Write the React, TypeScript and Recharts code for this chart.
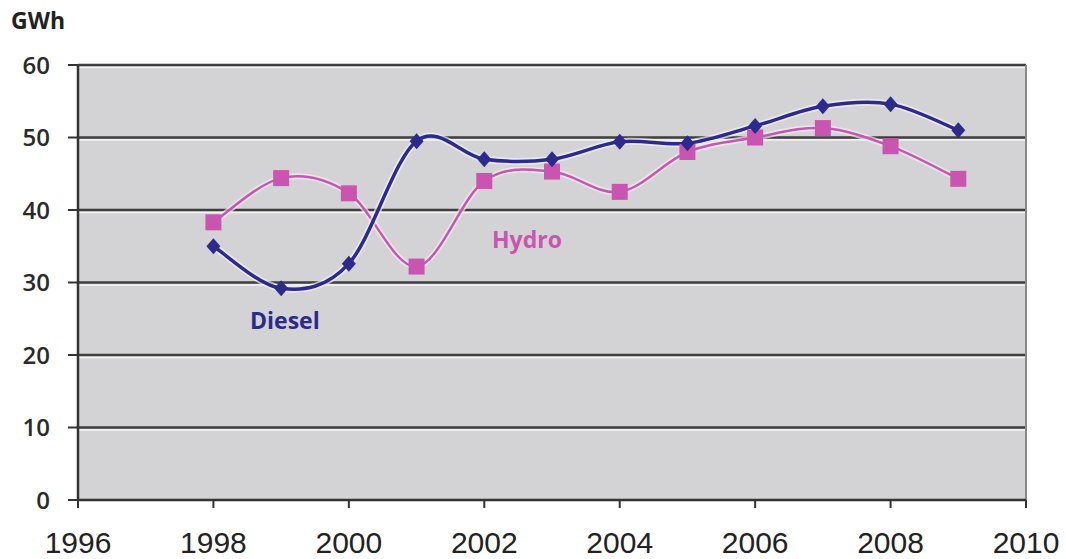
import { LineChart, Line, XAxis, YAxis, CartesianGrid, ReferenceLine } from 'recharts';

const years = [1998, 1999, 2000, 2001, 2002, 2003, 2004, 2005, 2006, 2007, 2008, 2009];
const diesel = [35, 29.2, 32.6, 49.5, 47, 47, 49.4, 49.2, 51.6, 54.3, 54.6, 51];
const hydro = [38.3, 44.4, 42.3, 32.2, 44, 45.3, 42.5, 48, 50, 51.3, 48.8, 44.3];
const xTicks = [1996, 1998, 2000, 2002, 2004, 2006, 2008, 2010];
const yTicks = [0, 10, 20, 30, 40, 50, 60];

const data = years.map((year, i) => ({ year, diesel: diesel[i], hydro: hydro[i] }));

const DIESEL = '#2c2a8c';
const HYDRO = '#c955b0';

// Excel-style smoothing (Catmull-Rom through the points)
const smooth = (context: any) => {
  let pts: [number, number][] = [];
  return {
    areaStart() {},
    areaEnd() {},
    lineStart() { pts = []; },
    point(x: number, y: number) { pts.push([+x, +y]); },
    lineEnd() {
      if (!pts.length) return;
      context.moveTo(pts[0][0], pts[0][1]);
      for (let i = 0; i < pts.length - 1; i++) {
        const p0 = pts[i - 1] || pts[i];
        const p1 = pts[i];
        const p2 = pts[i + 1];
        const p3 = pts[i + 2] || p2;
        context.bezierCurveTo(
          p1[0] + (p2[0] - p0[0]) / 6, p1[1] + (p2[1] - p0[1]) / 6,
          p2[0] - (p3[0] - p1[0]) / 6, p2[1] - (p3[1] - p1[1]) / 6,
          p2[0], p2[1]
        );
      }
    },
  };
};

const Diamond = (p: any) => (
  <path key={`d-${p.index}`} d={`M${p.cx},${p.cy - 8} L${p.cx + 7},${p.cy} L${p.cx},${p.cy + 8} L${p.cx - 7},${p.cy} Z`} fill={DIESEL} />
);

const Square = (p: any) => (
  <rect key={`s-${p.index}`} x={p.cx - 8} y={p.cy - 8} width={16} height={16} fill={HYDRO} />
);

const GridLine = (p: any) => {
  if (Math.abs(p.y1 - 500) < 2) return <g key={p.key} />;
  return (
    <g key={p.key}>
      <line x1={p.x1} y1={p.y1} x2={p.x2} y2={p.y2} stroke="#3e3e3e" strokeWidth={2.5} />
      <line x1={p.x1} y1={p.y1 + 2.5} x2={p.x2} y2={p.y2 + 2.5} stroke="#f4f4f4" strokeWidth={1.5} />
    </g>
  );
};

const labelFont = '"Open Sans", sans-serif';

export default function App() {
  return (
    <div style={{ position: 'absolute', left: 0, top: 0, width: 1066, height: 559, background: '#fff' }}>
      <div style={{ position: 'absolute', left: 11, top: 4, fontFamily: labelFont, fontWeight: 700, fontSize: 23, color: '#222' }}>
        GWh
      </div>
      <LineChart width={1066} height={559} data={data} margin={{ top: 65, right: 40, left: 18, bottom: 0 }}>
        <CartesianGrid vertical={false} fill="#d3d3d5" horizontal={GridLine} />
        <ReferenceLine x={2010} stroke="#888" strokeWidth={2} />
        <XAxis
          dataKey="year"
          type="number"
          domain={[1996, 2010]}
          ticks={xTicks}
          height={59}
          tickSize={8}
          tickMargin={24}
          axisLine={{ stroke: '#333', strokeWidth: 2.5 }}
          tickLine={{ stroke: '#333', strokeWidth: 2 }}
          tick={{ fill: '#222', fontSize: 30, fontFamily: '"Liberation Sans", Arial, sans-serif' }}
        />
        <YAxis
          domain={[0, 60]}
          ticks={yTicks}
          width={60}
          tickSize={10}
          tickMargin={18}
          axisLine={{ stroke: '#333', strokeWidth: 2.5 }}
          tickLine={{ stroke: '#333', strokeWidth: 2 }}
          tick={{ fill: '#2a2a2a', fontSize: 24, fontWeight: 600, fontFamily: labelFont }}
        />
        <Line dataKey="hydro" type={smooth as any} stroke="#f2eef2" strokeOpacity={0.7} strokeWidth={6} dot={false} activeDot={false} isAnimationActive={false} />
        <Line dataKey="hydro" type={smooth as any} stroke={HYDRO} strokeWidth={2.5} dot={Square} activeDot={false} isAnimationActive={false} />
        <Line dataKey="diesel" type={smooth as any} stroke="#f2f2f6" strokeOpacity={0.7} strokeWidth={7} dot={false} activeDot={false} isAnimationActive={false} />
        <Line dataKey="diesel" type={smooth as any} stroke={DIESEL} strokeWidth={3.5} dot={Diamond} activeDot={false} isAnimationActive={false} />
      </LineChart>
      <div style={{ position: 'absolute', left: 492, top: 223, fontFamily: labelFont, fontWeight: 700, fontSize: 23, color: HYDRO }}>
        Hydro
      </div>
      <div style={{ position: 'absolute', left: 250, top: 304, fontFamily: labelFont, fontWeight: 700, fontSize: 23, color: DIESEL }}>
        Diesel
      </div>
    </div>
  );
}
